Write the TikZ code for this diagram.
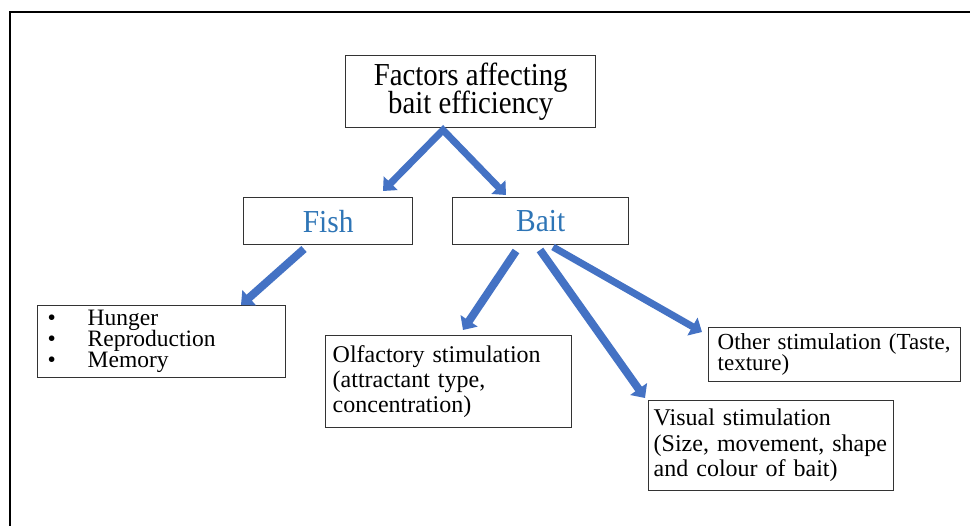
\documentclass[tikz,border=0pt]{standalone}
\usepackage{fontspec}
\setmainfont{Liberation Serif}
\newfontfamily\topfont{Liberation Serif}[FakeStretch=0.9]
\newfontfamily\midfont{Liberation Serif}[FakeStretch=0.92]
\usetikzlibrary{arrows.meta}
\definecolor{arrowblue}{HTML}{4472C4}
\definecolor{textblue}{HTML}{2E75B6}
\definecolor{boxline}{HTML}{333333}
\newcommand\tightls{\lineskiplimit=-50pt\relax}
\begin{document}
\begin{tikzpicture}[x=1pt,y=-1pt,
  box/.style={draw=boxline, line width=1.4pt, fill=white, anchor=north west, inner ysep=0pt},
  bodytext/.style={font=\fontsize{24}{25}\selectfont\tightls, align=left},
  arr/.style={draw=arrowblue, line width=8pt, line cap=butt, line join=miter,
     -{Triangle[length=11pt,width=20pt]}},
  biarr/.style={draw=arrowblue, line width=7pt, line cap=butt, line join=miter,
     {Triangle[length=11pt,width=19pt]}-{Triangle[length=11pt,width=19pt]}}]
\useasboundingbox (0,0) rectangle (970,526);
\fill[white] (0,0) rectangle (970,526);
% outer frame (top and left edges)
\draw[line width=2pt] (10,526) -- (10,12) -- (970,12);

% boxes
\node[box, minimum width=250pt, minimum height=72pt, inner xsep=4pt,
      font=\topfont\fontsize{32}{27.5}\selectfont\tightls, align=center] (top) at (345,55)
  {Factors affecting\\bait efficiency};
\node[box, minimum width=169pt, minimum height=47pt,
      font=\midfont\fontsize{32}{32}\selectfont, text=textblue] (fish) at (243,197) {Fish};
\node[box, minimum width=176pt, minimum height=47pt,
      font=\midfont\fontsize{32}{32}\selectfont, text=textblue] (bait) at (452,197) {Bait};
\node[box, bodytext, font=\fontsize{23.5}{21}\selectfont\tightls, inner xsep=10pt,
      text width=228pt, minimum height=72pt] (list) at (37,305)
  {\makebox[40pt][l]{\textbullet}Hunger\\
   \makebox[40pt][l]{\textbullet}Reproduction\\
   \makebox[40pt][l]{\textbullet}Memory};
\node[box, bodytext, inner xsep=7pt, text width=232pt, minimum height=92pt] (olf) at (325,335)
  {Olfactory stimulation\\(attractant type,\\concentration)};
\node[box, bodytext, font=\fontsize{23}{21.5}\selectfont\tightls, inner xsep=9pt, text width=234pt,
      minimum height=54pt] (other) at (708,327)
  {Other stimulation (Taste,\\texture)};
\node[box, bodytext, font=\fontsize{24}{25.5}\selectfont\tightls, inner xsep=5pt, text width=235pt,
      minimum height=90pt] (visual) at (648,400)
  {Visual stimulation\\(Size, movement, shape\\and colour of bait)};

% arrow end points
\coordinate (apex) at (443,130);
\coordinate (fishtip) at (383,191);
\coordinate (baittip) at (506,195);
\coordinate (fs) at (304,249);
\coordinate (fe) at (241,305);
\coordinate (b1s) at (516,251);
\coordinate (b1e) at (463,330);
\coordinate (b2s) at (540,250);
\coordinate (b2e) at (645,398);
\coordinate (b3s) at (553,247);
\coordinate (b3e) at (702,332);

% connectors
\draw[biarr] (fishtip) -- (apex) -- (baittip);
\draw[arr] (fs) -- (fe);
\draw[arr] (b1s) -- (b1e);
\draw[arr] (b2s) -- (b2e);
\draw[arr, line width=7pt] (b3s) -- (b3e);
\end{tikzpicture}
\end{document}
